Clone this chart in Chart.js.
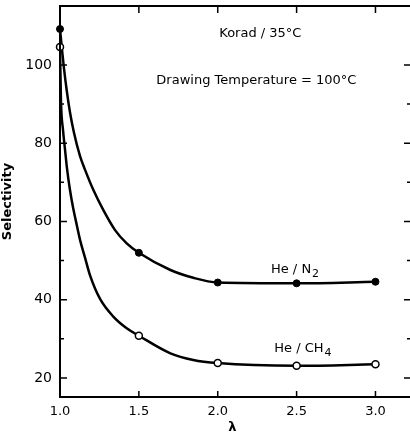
<!DOCTYPE html>
<html>
<head>
<meta charset="utf-8">
<script src="https://cdn.jsdelivr.net/npm/chart.js@4/dist/chart.umd.min.js"></script>
<style>
  body { margin: 0; background: #fff; }
  #wrap { width: 410px; height: 435px; }
</style>
</head>
<body>
<div id="wrap"><canvas id="chart"></canvas></div>
<script>
// Measured points (draw ratio lambda vs selectivity)
const lambdaPoints = [1.0, 1.5, 2.0, 2.5, 3.0];
const heN2 = [109.2, 52.0, 44.4, 44.2, 44.6];
const heCH4 = [104.6, 30.8, 23.8, 23.1, 23.5];

// Hand-drawn smooth curves
const n2CurveX = [1.0, 1.013, 1.025, 1.044, 1.063, 1.089, 1.127, 1.159, 1.211, 1.275, 1.349, 1.423, 1.5, 1.7, 1.845, 2.0, 2.5, 3.0];
const n2CurveY = [109.2, 103.8, 99.2, 93.1, 88.0, 82.6, 76.7, 73.2, 68.1, 62.9, 57.8, 54.4, 52.0, 47.6, 45.6, 44.4, 44.2, 44.6];
const ch4CurveX = [1.0, 1.006, 1.019, 1.032, 1.044, 1.063, 1.083, 1.102, 1.127, 1.159, 1.19, 1.254, 1.338, 1.423, 1.5, 1.7, 1.845, 2.0, 2.5, 3.0];
const ch4CurveY = [104.6, 91.0, 83.4, 78.3, 73.7, 68.1, 63.5, 59.9, 55.3, 50.7, 46.3, 40.2, 35.7, 32.7, 30.8, 26.3, 24.6, 23.8, 23.1, 23.5];

const xTicks = [1.0, 1.5, 2.0, 2.5, 3.0];
const yTicks = [20, 40, 60, 80, 100];
const yMinor = [30, 50, 70, 90];

const toXY = (xs, ys) => xs.map((x, i) => ({ x: x, y: ys[i] }));

// text with a lowered subscript, centred on (cx, cy)
function subText(ctx, main, sub, cx, cy) {
    ctx.font = '13px "DejaVu Sans"';
    const w1 = ctx.measureText(main).width;
    ctx.font = '11px "DejaVu Sans"';
    const w2 = ctx.measureText(sub).width;
    const x0 = cx - (w1 + w2 + 1) / 2;
    ctx.textAlign = 'left';
    ctx.font = '13px "DejaVu Sans"';
    ctx.fillText(main, x0, cy);
    ctx.font = '11px "DejaVu Sans"';
    ctx.fillText(sub, x0 + w1 + 1, cy + 4);
}

// Frame, inward tick marks and in-plot labels
const framePlugin = {
    id: 'frame',
    afterDraw(chart) {
        const { ctx, chartArea: { left, top, bottom }, scales: { x, y } } = chart;
        const edge = chart.width; // right axis sits just past the picture edge
        ctx.save();
        ctx.strokeStyle = '#000';
        ctx.lineWidth = 2;
        ctx.beginPath();
        ctx.moveTo(edge, top);
        ctx.lineTo(left, top);
        ctx.lineTo(left, bottom);
        ctx.lineTo(edge, bottom);
        ctx.stroke();

        ctx.lineWidth = 1.5;
        ctx.beginPath();
        xTicks.slice(1).forEach(v => {
            const px = x.getPixelForValue(v);
            ctx.moveTo(px, bottom); ctx.lineTo(px, bottom - 6);
            ctx.moveTo(px, top); ctx.lineTo(px, top + 7);
        });
        yTicks.forEach(v => {
            const py = y.getPixelForValue(v);
            ctx.moveTo(left, py); ctx.lineTo(left + 7, py);
            ctx.moveTo(edge, py); ctx.lineTo(edge - 6, py);
        });
        yMinor.forEach(v => {
            const py = y.getPixelForValue(v);
            ctx.moveTo(left, py); ctx.lineTo(left + 4, py);
            ctx.moveTo(edge, py); ctx.lineTo(edge - 3, py);
        });
        ctx.stroke();

        ctx.fillStyle = '#000';
        ctx.textAlign = 'center';
        ctx.textBaseline = 'middle';
        ctx.font = '13px "DejaVu Sans"';
        ctx.fillText('Korad / 35°C', x.getPixelForValue(2.27), y.getPixelForValue(108.1));
        ctx.fillText('Drawing Temperature = 100°C', x.getPixelForValue(2.245), y.getPixelForValue(96.1));
        subText(ctx, 'He / N', '2', x.getPixelForValue(2.49), y.getPixelForValue(47.6));
        subText(ctx, 'He / CH', '4', x.getPixelForValue(2.54), y.getPixelForValue(27.4));
        ctx.restore();
    }
};

Chart.defaults.font.family = '"DejaVu Sans", sans-serif';
Chart.defaults.color = '#000';

new Chart(document.getElementById('chart'), {
    type: 'line',
    data: {
        datasets: [
            {
                label: 'He / N2',
                data: toXY(lambdaPoints, heN2),
                showLine: false,
                pointRadius: 3.5,
                pointBackgroundColor: '#000',
                pointBorderColor: '#000',
                pointBorderWidth: 1,
                clip: false
            },
            {
                label: 'He / CH4',
                data: toXY(lambdaPoints, heCH4),
                showLine: false,
                pointRadius: 3.5,
                pointBackgroundColor: '#fff',
                pointBorderColor: '#000',
                pointBorderWidth: 1.5,
                clip: false
            },
            {
                label: 'N2 curve',
                data: toXY(n2CurveX, n2CurveY),
                borderColor: '#000',
                borderWidth: 2.5,
                pointRadius: 0,
                cubicInterpolationMode: 'monotone'
            },
            {
                label: 'CH4 curve',
                data: toXY(ch4CurveX, ch4CurveY),
                borderColor: '#000',
                borderWidth: 2.5,
                pointRadius: 0,
                cubicInterpolationMode: 'monotone'
            }
        ]
    },
    options: {
        responsive: true,
        maintainAspectRatio: false,
        animation: false,
        layout: { padding: { top: 6, right: 0, left: 0, bottom: 0 } },
        plugins: {
            legend: { display: false },
            tooltip: { enabled: false }
        },
        scales: {
            x: {
                type: 'linear',
                min: 1.0,
                max: 3.184,
                grid: { display: false, drawTicks: false },
                border: { display: false },
                afterBuildTicks: function(scale) {
                    scale.ticks = xTicks.map(v => ({ value: v }));
                },
                afterFit: function(scale) {
                    scale.height = 38;
                    scale.paddingLeft = 0;
                    scale.paddingRight = 0;
                },
                ticks: {
                    padding: 7,
                    font: { size: 13 },
                    callback: v => v.toFixed(1)
                },
                title: {
                    display: true,
                    text: 'λ',
                    font: { size: 13, weight: 'bold' },
                    padding: { top: 0, bottom: 0 }
                }
            },
            y: {
                min: 15.14,
                max: 115.08,
                grid: { display: false, drawTicks: false },
                border: { display: false },
                afterBuildTicks: function(scale) {
                    scale.ticks = yTicks.map(v => ({ value: v }));
                },
                afterFit: function(scale) {
                    scale.width = 60;
                    scale.paddingTop = 0;
                    scale.paddingBottom = 0;
                },
                ticks: {
                    padding: 8,
                    font: { size: 14 }
                },
                title: {
                    display: true,
                    text: 'Selectivity',
                    font: { size: 13, weight: 'bold' },
                    padding: { top: 0, bottom: 0 }
                }
            }
        }
    },
    plugins: [framePlugin]
});
</script>
</body>
</html>
